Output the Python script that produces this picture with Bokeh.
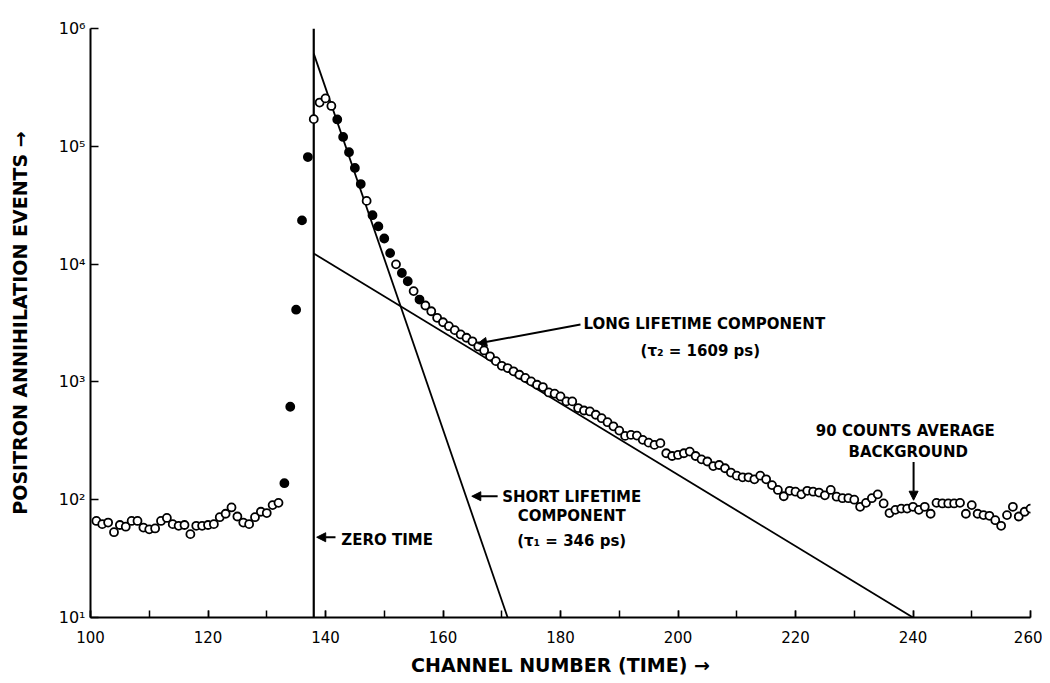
from bokeh.plotting import figure
from bokeh.models import (FixedTicker, SingleIntervalTicker, CustomJSTickFormatter,
                          Arrow, NormalHead, Label)
from bokeh.embed import file_html
from bokeh.resources import INLINE

# ---- data -------------------------------------------------------------
channels = list(range(101, 261))
counts = [
    66, 62, 64, 53, 61, 59, 66, 66, 58, 56,            # 101-110
    57, 66, 70, 62, 60, 61, 51, 60, 60, 61,            # 111-120
    62, 71, 76, 86, 72, 64, 62, 71, 79, 77,            # 121-130
    90, 94, 138, 615, 4100, 23500, 81000, 170000, 235000, 255000,   # 131-140
    220000, 169000, 120000, 89000, 65500, 47800, 34400, 26000, 20900, 16500,  # 141-150
    12400, 9950, 8400, 7150, 5900, 5000, 4450, 3980, 3500, 3210,     # 151-160
    2970, 2750, 2530, 2370, 2210, 2000, 1850, 1650, 1500, 1370,      # 161-170
    1310, 1230, 1150, 1080, 1010, 946, 904, 814, 794, 753,           # 171-180
    683, 683, 600, 572, 561, 526, 492, 455, 420, 386,                # 181-190
    348, 355, 350, 322, 305, 292, 302, 248, 235, 240,                # 191-200
    248, 256, 235, 220, 211, 193, 197, 185, 170, 160,                # 201-210
    155, 155, 149, 160, 149, 133, 121, 107, 119, 117,                # 211-220
    111, 119, 117, 115, 109, 121, 106, 103, 103, 100,                # 221-230
    87, 94, 103, 111, 93, 77, 82, 84, 84, 87,                        # 231-240
    82, 87, 76, 94, 93, 93, 93, 94, 76, 90,                          # 241-250
    76, 74, 73, 67, 60, 74, 87, 72, 79, 84,                          # 251-260
]
filled_channels = [133, 134, 135, 136, 137, 142, 143, 144, 145, 146,
                   148, 149, 150, 151, 153, 154, 156]

long_x = [138, 240]          # long lifetime component fit
long_y = [12300, 10]
short_x = [138, 171]         # short lifetime component fit
short_y = [612000, 10]
zero_x = [138, 138]          # zero time
zero_y = [10, 1000000]

y_ticks = [10, 100, 1000, 10000, 100000, 1000000]

x_title = "CHANNEL NUMBER (TIME) \u2192"
y_title = "POSITRON ANNIHILATION EVENTS \u2192"

# ---- split markers ---------------------------------------------------
open_x, open_y, fill_x, fill_y = [], [], [], []
for c, v in zip(channels, counts):
    if c in filled_channels:
        fill_x.append(c); fill_y.append(v)
    else:
        open_x.append(c); open_y.append(v)

FONT = "DejaVu Sans"

p = figure(width=1042, height=682, x_range=(100, 260), y_range=(10, 1e6),
           y_axis_type="log", output_backend="svg", toolbar_location=None,
           min_border_left=90, min_border_right=12, min_border_top=28,
           min_border_bottom=65)
p.outline_line_color = None
p.grid.visible = False
p.background_fill_color = "white"

# x axis
xa = p.xaxis[0]
xa.ticker = SingleIntervalTicker(interval=20, num_minor_ticks=2)
xa.major_tick_in = 7
xa.major_tick_out = 0
xa.minor_tick_in = 7
xa.minor_tick_out = 0
xa.axis_line_width = 2
xa.major_tick_line_width = 1.5
xa.minor_tick_line_width = 1.5
xa.major_label_standoff = 13
xa.major_label_text_font = FONT
xa.major_label_text_font_size = "15px"
xa.major_label_text_color = "black"
xa.axis_label = x_title
xa.axis_label_text_font = FONT
xa.axis_label_text_font_size = "19px"
xa.axis_label_text_font_style = "bold"
xa.axis_label_text_color = "black"
xa.axis_label_standoff = 8

# y axis
ya = p.yaxis[0]
ya.ticker = FixedTicker(ticks=y_ticks, minor_ticks=[])
ya.formatter = CustomJSTickFormatter(code="""
const s = ['\u2070','\u00b9','\u00b2','\u00b3','\u2074','\u2075','\u2076'];
return '10' + s[Math.round(Math.log10(tick))];
""")
ya.major_tick_in = 8
ya.major_tick_out = 0
ya.minor_tick_in = 0
ya.minor_tick_out = 0
ya.axis_line_width = 2
ya.major_tick_line_width = 1.5
ya.major_label_standoff = 5
ya.major_label_text_font = FONT
ya.major_label_text_font_size = "16px"
ya.major_label_text_color = "black"
ya.axis_label = y_title
ya.axis_label_text_font = FONT
ya.axis_label_text_font_size = "19px"
ya.axis_label_text_font_style = "bold"
ya.axis_label_text_color = "black"
ya.axis_label_standoff = 25

# fitted lines
p.line(long_x, long_y, line_color="black", line_width=1.8)
p.line(short_x, short_y, line_color="black", line_width=1.8)
p.line(zero_x, zero_y, line_color="black", line_width=2.2)

# data points
p.scatter(open_x, open_y, marker="circle", size=8, fill_color="white",
          line_color="black", line_width=1.8)
p.scatter(fill_x, fill_y, marker="circle", size=8, fill_color="black",
          line_color="black", line_width=1.8)

# annotations
def lab(x, y, text, align="center"):
    p.add_layout(Label(x=x, y=y, text=text, text_align=align,
                       text_baseline="middle", text_font=FONT,
                       text_font_size="15px", text_font_style="bold",
                       text_color="black"))

def arr(x0, y0, x1, y1):
    p.add_layout(Arrow(end=NormalHead(size=9, fill_color="black",
                                      line_color="black"),
                       x_start=x0, y_start=y0, x_end=x1, y_end=y1,
                       line_color="black", line_width=2))

lab(183.9, 3130, "LONG LIFETIME COMPONENT", "left")
lab(203.8, 1845, "(\u03c4\u2082 = 1609 ps)")
arr(183.4, 3070, 165.9, 2115)

lab(238.7, 384, "90 COUNTS AVERAGE")
lab(239.2, 254, "BACKGROUND")
arr(240.1, 209, 240.1, 99)

lab(181.9, 105, "SHORT LIFETIME")
lab(181.9, 72.4, "COMPONENT")
lab(181.9, 44.3, "(\u03c4\u2081 = 346 ps)")
arr(169.3, 107, 164.9, 107)

lab(142.7, 45.3, "ZERO TIME", "left")
arr(141.7, 48, 138.5, 48)

open("out.html", "w").write(file_html(p, INLINE))
